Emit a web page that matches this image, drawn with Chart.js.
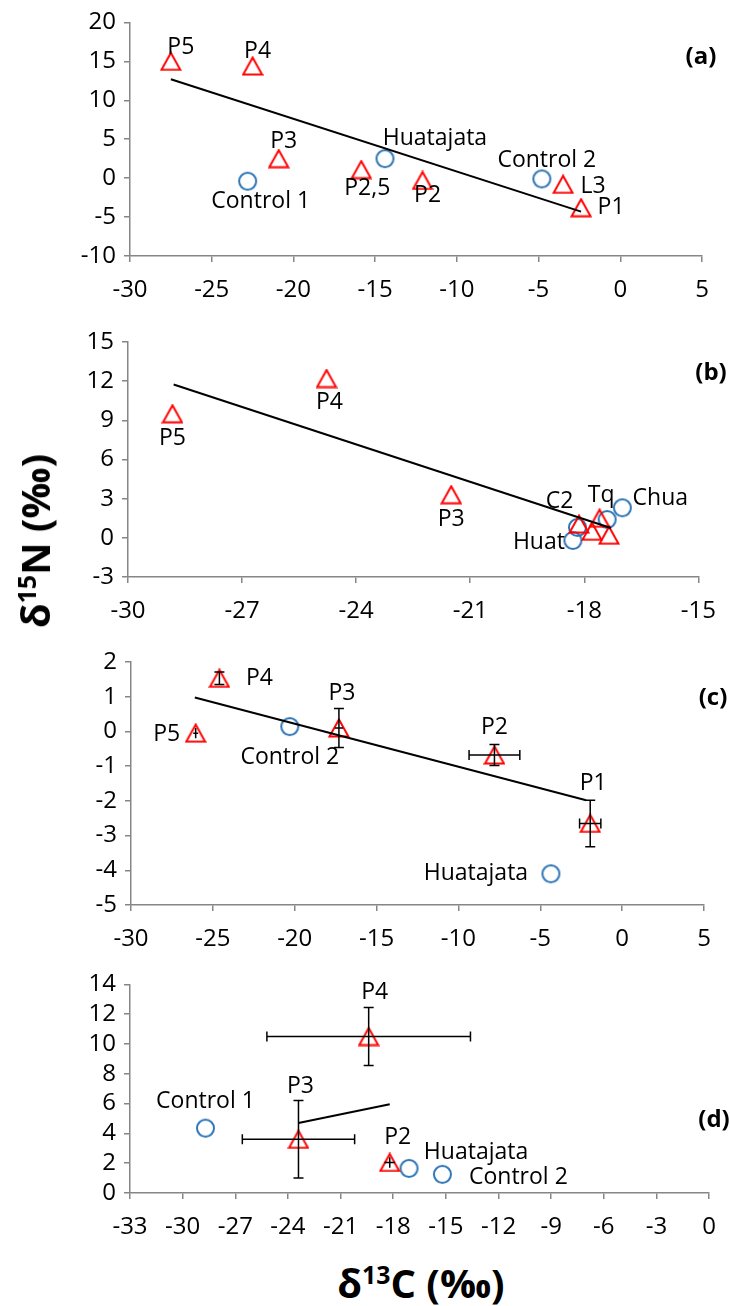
<!DOCTYPE html>
<html><head><meta charset="utf-8">
<script src="https://cdn.jsdelivr.net/npm/chart.js@4"></script>
<style>
html,body{margin:0;padding:0;background:#fff;}
body{width:730px;height:1306px;position:relative;overflow:hidden;font-family:'Open Sans',sans-serif;color:#000;}
canvas{position:absolute;left:0;}
.tag{position:absolute;font-weight:bold;font-size:24px;transform:translate(-50%,-50%);white-space:nowrap;}
.ttl{position:absolute;font-weight:bold;font-size:40px;white-space:nowrap;line-height:1;}
.ttl sup{font-size:0.62em;vertical-align:0.55em;line-height:0;}
</style></head><body>
<canvas id="ca" width="730" height="310" style="top:0px"></canvas>
<canvas id="cb" width="730" height="320" style="top:312px"></canvas>
<canvas id="cc" width="730" height="326" style="top:634px"></canvas>
<canvas id="cd" width="730" height="290" style="top:962px"></canvas>
<div class="tag" style="left:701px;top:54px">(a)</div>
<div class="tag" style="left:711px;top:370px">(b)</div>
<div class="tag" style="left:713px;top:695px">(c)</div>
<div class="tag" style="left:714px;top:1117px">(d)</div>
<div class="ttl" style="left:35px;top:541px;transform:translate(-50%,-50%) rotate(-90deg)">δ<sup>15</sup>N (‰)</div>
<div class="ttl" style="left:421px;top:1283px;transform:translate(-50%,-50%)">δ<sup>13</sup>C (‰)</div>
<script>
// ---------- Panel (a) ----------
const aTriNames = ['P5','P4','P3','P2,5','P2','L3','P1'];
const aTriX = [-27.5,-22.5,-20.9,-15.85,-12.1,-3.5,-2.4];
const aTriY = [15.0,14.4,2.5,1.1,-0.3,-0.8,-3.8];
const aCircNames = ['Control 1','Huatajata','Control 2'];
const aCircX = [-22.8,-14.4,-4.8];
const aCircY = [-0.4,2.5,-0.1];
const aTrendX = [-27.5,-2.4];
const aTrendY = [12.7,-4.3];
const aXTicks = [-30,-25,-20,-15,-10,-5,0,5];
const aYTicks = [-10,-5,0,5,10,15,20];

// ---------- Panel (b) ----------
const bTriNames = ['P5','P4','P3','','','',''];
const bTriX = [-28.83,-24.78,-21.5,-18.14,-17.8,-17.6,-17.35];
const bTriY = [9.5,12.2,3.3,1.05,0.5,1.5,0.2];
const bCircNames = ['Huat','C2','Tq','Chua'];
const bCircX = [-18.3,-18.18,-17.4,-17.0];
const bCircY = [-0.2,0.8,1.4,2.3];
const bTrendX = [-28.8,-17.3];
const bTrendY = [11.75,0.75];
const bXTicks = [-30,-27,-24,-21,-18,-15];
const bYTicks = [-3,0,3,6,9,12,15];

// ---------- Panel (c) ----------
const cTriNames = ['P4','P5','P3','P2','P1'];
const cTriX = [-24.6,-26.05,-17.3,-7.8,-1.95];
const cTriY = [1.53,-0.05,0.1,-0.68,-2.65];
const cTriXErr = [0,0.15,0.25,1.55,0.65];
const cTriYErr = [0.18,0.15,0.56,0.3,0.67];
const cCircNames = ['Control 2','Huatajata'];
const cCircX = [-20.3,-4.35];
const cCircY = [0.14,-4.1];
const cTrendX = [-26.1,-2.2];
const cTrendY = [0.98,-1.98];
const cXTicks = [-30,-25,-20,-15,-10,-5,0,5];
const cYTicks = [-5,-4,-3,-2,-1,0,1,2];

// ---------- Panel (d) ----------
const dTriNames = ['P4','P3','P2'];
const dTriX = [-19.4,-23.4,-18.2];
const dTriY = [10.5,3.6,2.05];
const dTriXErr = [5.8,3.2,0.3];
const dTriYErr = [1.95,2.6,0.35];
const dCircNames = ['Control 1','Huatajata','Control 2'];
const dCircX = [-28.7,-17.1,-15.2];
const dCircY = [4.35,1.65,1.25];
const dTrendX = [-23.4,-18.2];
const dTrendY = [4.7,5.95];
const dXTicks = [-33,-30,-27,-24,-21,-18,-15,-12,-9,-6,-3,0];
const dYTicks = [0,2,4,6,8,10,12,14];

// label offsets (pixels, styling only)
const aTriOff = [[10,-14],[5,-15],[5,-17],[6,19],[5,15],[30,2],[30,0]];
const aCircOff = [[13,20],[50,-20],[5,-18]];
const bTriOff = [[0,25],[3,24],[0,25],[0,0],[0,0],[0,0],[0,0]];
const bCircOff = [[-34,2],[-18,-26],[-6,-24],[38,-9]];
const cTriOff = [[40,0],[-29,1],[3,-35],[0,-28],[3,-40]];
const cCircOff = [[0,31],[-75,0]];
const dTriOff = [[6,-44],[2,-53],[8,-25]];
const dCircOff = [[0,-27],[67,-16],[76,3]];

// ---------- marker images ----------
function triImg(){
  const c=document.createElement('canvas'); c.width=22; c.height=20;
  const g=c.getContext('2d'); g.strokeStyle='#FF0000'; g.lineWidth=2; g.lineJoin='miter';
  g.beginPath(); g.moveTo(11,1.5); g.lineTo(20.5,18.5); g.lineTo(1.5,18.5); g.closePath(); g.stroke();
  return c;
}
function circImg(){
  const c=document.createElement('canvas'); c.width=21; c.height=21;
  const g=c.getContext('2d'); g.strokeStyle='#2E75B6'; g.lineWidth=2;
  g.beginPath(); g.arc(10.5,10.5,8.5,0,Math.PI*2); g.stroke();
  return c;
}
const TRI=triImg(), CIRC=circImg();
const pts=(xs,ys)=>xs.map((v,i)=>({x:v,y:ys[i]}));

function extras(id, groups){
  return {id:'extras_'+id, afterDatasetsDraw(chart){
    const ctx=chart.ctx, xs=chart.scales.x, ys=chart.scales.y;
    ctx.save();
    ctx.strokeStyle='#000'; ctx.lineWidth=1.5;
    groups.forEach(g=>{
      if(!g.xErr) return;
      g.x.forEach((v,i)=>{
        const px=xs.getPixelForValue(v), py=ys.getPixelForValue(g.y[i]);
        const ex=g.xErr[i], ey=g.yErr[i];
        ctx.beginPath();
        if(ex>0){
          const l=xs.getPixelForValue(v-ex), r=xs.getPixelForValue(v+ex);
          const cap=(r-l)/2>6?5:0;
          ctx.moveTo(l,py); ctx.lineTo(r,py);
          if(cap){ctx.moveTo(l,py-cap); ctx.lineTo(l,py+cap);
          ctx.moveTo(r,py-cap); ctx.lineTo(r,py+cap);}
        }
        if(ey>0){
          const t=ys.getPixelForValue(g.y[i]+ey), b=ys.getPixelForValue(g.y[i]-ey);
          const cap=(ex>0 && (b-t)/2<6)?0:5;
          ctx.moveTo(px,t); ctx.lineTo(px,b);
          if(cap){ctx.moveTo(px-cap,t); ctx.lineTo(px+cap,t);
          ctx.moveTo(px-cap,b); ctx.lineTo(px+cap,b);}
        }
        ctx.stroke();
      });
    });
    ctx.fillStyle='#000'; ctx.font='23px "Open Sans"'; ctx.textAlign='center'; ctx.textBaseline='middle';
    groups.forEach(g=>{
      g.x.forEach((v,i)=>{
        const n=g.names[i]; if(!n) return;
        ctx.fillText(n, xs.getPixelForValue(v)+g.off[i][0], ys.getPixelForValue(g.y[i])+g.off[i][1]);
      });
    });
    ctx.restore();
  }};
}

function makeChart(canvasId, p){
  const tickFont={family:'Open Sans',size:24};
  const axisCol='#868686';
  new Chart(document.getElementById(canvasId), {
    type:'scatter',
    data:{datasets:[
      {data:pts(p.trendX,p.trendY), showLine:true, borderColor:'#000', borderWidth:2, pointRadius:0, fill:false},
      {data:pts(p.triX,p.triY), pointStyle:TRI, pointRadius:9, borderColor:'#FF0000', backgroundColor:'transparent'},
      {data:pts(p.circX,p.circY), pointStyle:CIRC, pointRadius:9, borderColor:'#2E75B6', backgroundColor:'transparent'}
    ]},
    options:{
      responsive:false, animation:false, events:[],
      layout:{padding:{top:p.padTop, right:730-p.right, left:0, bottom:0}},
      plugins:{legend:{display:false}, tooltip:{enabled:false}},
      scales:{
        x:{type:'linear', min:p.xTicks[0], max:p.xTicks[p.xTicks.length-1],
           afterBuildTicks:s=>{s.ticks=p.xTicks.map(v=>({value:v}));},
           ticks:{font:tickFont, color:'#000', padding:14, maxRotation:0, autoSkip:false, callback:v=>String(v)},
           grid:{drawOnChartArea:false, drawTicks:true, tickLength:6, color:axisCol, lineWidth:1.5},
           border:{color:axisCol, width:1.5},
           afterFit:s=>{s.height=p.xH;}},
        y:{type:'linear', min:p.yTicks[0], max:p.yTicks[p.yTicks.length-1],
           afterBuildTicks:s=>{s.ticks=p.yTicks.map(v=>({value:v}));},
           ticks:{font:tickFont, color:'#000', padding:8, autoSkip:false, callback:v=>String(v)},
           grid:{drawOnChartArea:false, drawTicks:true, tickLength:6, color:axisCol, lineWidth:1.5},
           border:{color:axisCol, width:1.5},
           afterFit:s=>{s.width=p.left;}}
      }
    },
    plugins:[extras(canvasId, p.groups)]
  });
}

makeChart('ca', {trendX:aTrendX, trendY:aTrendY, triX:aTriX, triY:aTriY, circX:aCircX, circY:aCircY,
  xTicks:aXTicks, yTicks:aYTicks, left:130, right:702, padTop:18, xH:54,
  groups:[{x:aTriX,y:aTriY,names:aTriNames,off:aTriOff},{x:aCircX,y:aCircY,names:aCircNames,off:aCircOff}]});
makeChart('cb', {trendX:bTrendX, trendY:bTrendY, triX:bTriX, triY:bTriY, circX:bCircX, circY:bCircY,
  xTicks:bXTicks, yTicks:bYTicks, left:128, right:704, padTop:30, xH:55,
  groups:[{x:bTriX,y:bTriY,names:bTriNames,off:bTriOff},{x:bCircX,y:bCircY,names:bCircNames,off:bCircOff}]});
makeChart('cc', {trendX:cTrendX, trendY:cTrendY, triX:cTriX, triY:cTriY, circX:cCircX, circY:cCircY,
  xTicks:cXTicks, yTicks:cYTicks, left:131, right:704, padTop:28, xH:55,
  groups:[{x:cTriX,y:cTriY,names:cTriNames,off:cTriOff,xErr:cTriXErr,yErr:cTriYErr},{x:cCircX,y:cCircY,names:cCircNames,off:cCircOff}]});
makeChart('cd', {trendX:dTrendX, trendY:dTrendY, triX:dTriX, triY:dTriY, circX:dCircX, circY:dCircY,
  xTicks:dXTicks, yTicks:dYTicks, left:130, right:711, padTop:19, xH:59,
  groups:[{x:dTriX,y:dTriY,names:dTriNames,off:dTriOff,xErr:dTriXErr,yErr:dTriYErr},{x:dCircX,y:dCircY,names:dCircNames,off:dCircOff}]});
</script>
</body></html>
